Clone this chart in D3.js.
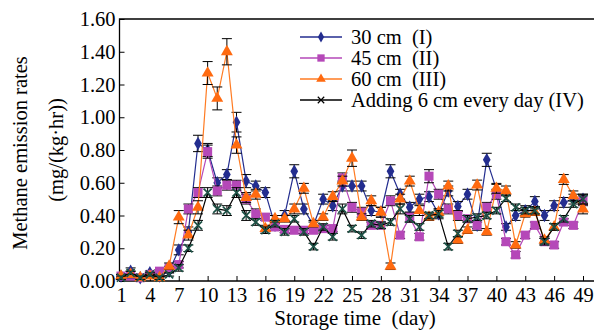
<!DOCTYPE html>
<html>
<head>
<meta charset="utf-8">
<script src="https://cdn.jsdelivr.net/npm/d3@7"></script>
<style>
  body { margin: 0; background: #fff; }
  text { font-family: "Liberation Serif", "Times New Roman", serif; fill: #000; }
</style>
</head>
<body>
<svg id="chart" width="594" height="332"></svg>
<script>
// storage day of each measurement
const days = [1, 2, 3, 4, 5, 6, 7, 8, 9, 10, 11, 12, 13, 14, 15, 16, 17, 18, 19, 20, 21, 22, 23, 24, 25,
  26, 27, 28, 29, 30, 31, 32, 33, 34, 35, 36, 37, 38, 39, 40, 41, 42, 43, 44, 45, 46, 47, 48, 49];
const xTicks = [1, 4, 7, 10, 13, 16, 19, 22, 25, 28, 31, 34, 37, 40, 43, 46, 49];
const yTicks = [0, 0.2, 0.4, 0.6, 0.8, 1.0, 1.2, 1.4, 1.6];
const seriesNames = ['30 cm\u2002(I)', '45 cm\u2002(II)', '60 cm\u2002(III)', 'Adding 6 cm every day (IV)'];

// methane emission rates, mg/(kg·hr)
const rateI = [0.03, 0.06, 0.02, 0.05, 0.03, 0.06, 0.19, 0.30, 0.84, 0.80, 0.60, 0.65, 0.97, 0.61, 0.58, 0.54,
  0.34, 0.40, 0.67, 0.44, 0.34, 0.50, 0.46, 0.58, 0.58, 0.58, 0.43, 0.42, 0.67, 0.53, 0.45, 0.50, 0.515,
  0.41, 0.55, 0.455, 0.53, 0.34, 0.74, 0.56, 0.33, 0.40, 0.43, 0.485, 0.40, 0.46, 0.48, 0.50, 0.50];
const rateII = [0.03, 0.03, 0.02, 0.04, 0.06, 0.08, 0.10, 0.44, 0.54, 0.79, 0.55, 0.585, 0.585, 0.50, 0.41, 0.39,
  0.33, 0.315, 0.31, 0.31, 0.31, 0.32, 0.32, 0.63, 0.45, 0.42, 0.34, 0.34, 0.49, 0.28, 0.39, 0.27, 0.64,
  0.53, 0.44, 0.40, 0.38, 0.34, 0.45, 0.53, 0.24, 0.16, 0.28, 0.34, 0.24, 0.22, 0.36, 0.34, 0.49];
const rateIII = [0.03, 0.04, 0.02, 0.03, 0.02, 0.09, 0.39, 0.28, 0.45, 1.27, 1.115, 1.40, 0.83, 0.51, 0.53, 0.32,
  0.38, 0.38, 0.44, 0.566, 0.35, 0.39, 0.515, 0.61, 0.75, 0.39, 0.49, 0.42, 0.09, 0.50, 0.61, 0.43, 0.39,
  0.42, 0.58, 0.25, 0.31, 0.586, 0.30, 0.566, 0.55, 0.22, 0.41, 0.42, 0.25, 0.33, 0.62, 0.52, 0.44];
const rateIV = [0.02, 0.05, 0.02, 0.04, 0.02, 0.04, 0.08, 0.20, 0.34, 0.54, 0.44, 0.43, 0.54, 0.40, 0.36, 0.31,
  0.35, 0.30, 0.38, 0.30, 0.21, 0.33, 0.27, 0.44, 0.32, 0.28, 0.35, 0.34, 0.36, 0.44, 0.38, 0.33, 0.40,
  0.41, 0.21, 0.29, 0.38, 0.39, 0.40, 0.43, 0.505, 0.45, 0.43, 0.43, 0.24, 0.33, 0.38, 0.47, 0.50];

// error bar half-widths
const errI = [0.01, 0.02, 0.01, 0.01, 0.01, 0.01, 0.03, 0.03, 0.05, 0.04, 0.03, 0.03, 0.06, 0.04, 0.03, 0.03,
  0.02, 0.03, 0.04, 0.03, 0.02, 0.03, 0.03, 0.03, 0.03, 0.03, 0.03, 0.03, 0.04, 0.03, 0.03, 0.03, 0.03,
  0.03, 0.03, 0.03, 0.03, 0.03, 0.04, 0.03, 0.02, 0.03, 0.03, 0.03, 0.03, 0.03, 0.03, 0.03, 0.03];
const errII = [0.01, 0.01, 0.01, 0.01, 0.01, 0.01, 0.02, 0.03, 0.03, 0.04, 0.03, 0.03, 0.03, 0.03, 0.03, 0.02,
  0.02, 0.02, 0.02, 0.02, 0.02, 0.02, 0.02, 0.03, 0.03, 0.03, 0.02, 0.02, 0.03, 0.02, 0.03, 0.02, 0.04,
  0.03, 0.03, 0.03, 0.02, 0.02, 0.03, 0.03, 0.02, 0.02, 0.02, 0.02, 0.02, 0.02, 0.02, 0.02, 0.03];
const errIII = [0.01, 0.02, 0.01, 0.01, 0.01, 0.02, 0.04, 0.03, 0.04, 0.07, 0.07, 0.08, 0.05, 0.03, 0.03, 0.02,
  0.02, 0.02, 0.03, 0.03, 0.02, 0.02, 0.03, 0.03, 0.05, 0.02, 0.03, 0.03, 0.02, 0.03, 0.03, 0.03, 0.02,
  0.02, 0.03, 0.02, 0.02, 0.03, 0.02, 0.03, 0.03, 0.02, 0.02, 0.02, 0.02, 0.02, 0.03, 0.03, 0.03];
const errIV = [0.01, 0.01, 0.01, 0.01, 0.01, 0.01, 0.02, 0.02, 0.03, 0.03, 0.03, 0.03, 0.03, 0.03, 0.02, 0.02,
  0.02, 0.02, 0.02, 0.02, 0.02, 0.02, 0.02, 0.03, 0.02, 0.02, 0.02, 0.02, 0.02, 0.03, 0.02, 0.02, 0.02,
  0.02, 0.02, 0.02, 0.02, 0.02, 0.02, 0.02, 0.02, 0.02, 0.02, 0.02, 0.02, 0.02, 0.02, 0.02, 0.03];

const svg = d3.select('#chart');

// edges of the plot box
const plotLeft = 119.5, plotRight = 594, plotTop = 19, plotBottom = 281;

const x = d3.scaleLinear().domain([1, 49]).range([121, 583]);
const y = d3.scaleLinear().domain([0, 1.6]).range([plotBottom, plotTop]);

const series = [
  { name: seriesNames[0], values: rateI, err: errI, color: '#232d8f', fill: '#232d8f',
    symbol: d3.symbolDiamond, size: 52, stroke: 'none' },
  { name: seriesNames[1], values: rateII, err: errII, color: '#b548b8', fill: '#b548b8',
    symbol: d3.symbolSquare, size: 82, stroke: 'none' },
  { name: seriesNames[2], values: rateIII, err: errIII, color: '#ff7b22', fill: '#ff6a10',
    symbol: d3.symbolTriangle, size: 62, stroke: 'none' },
  { name: seriesNames[3], values: rateIV, err: errIV, color: '#000', fill: 'none',
    symbol: d3.symbolTimes || d3.symbolX || d3.symbolCross, size: 44, stroke: '#1d5246' }
];

// axes with inward ticks
svg.append('g')
  .attr('transform', `translate(0, ${plotBottom})`)
  .call(d3.axisBottom(x).tickValues(xTicks).tickSize(-5).tickPadding(6).tickFormat(d3.format('d')))
  .call(g => g.select('.domain').remove())
  .call(g => g.selectAll('text').style('font-size', '20.5px'));

svg.append('g')
  .attr('transform', `translate(${plotLeft}, 0)`)
  .call(d3.axisLeft(y).tickValues(yTicks).tickSize(-5).tickPadding(4).tickFormat(d3.format('.2f')))
  .call(g => g.select('.domain').remove())
  .call(g => g.selectAll('text').style('font-size', '20.5px'));

svg.append('path')
  .attr('d', `M${plotRight},${plotTop}H${plotLeft}V${plotBottom}H${plotRight}`)
  .attr('fill', 'none')
  .attr('stroke', '#000')
  .attr('stroke-width', 1.3);

const line = d3.line()
  .x((d, i) => x(days[i]))
  .y(d => y(d));

series.forEach(s => {
  const g = svg.append('g');
  g.append('path')
    .datum(s.values)
    .attr('d', line)
    .attr('fill', 'none')
    .attr('stroke', s.color)
    .attr('stroke-width', 1.2);

  // error bars
  const eb = g.selectAll('.eb').data(s.values).enter().append('g');
  eb.append('line')
    .attr('x1', (d, i) => x(days[i])).attr('x2', (d, i) => x(days[i]))
    .attr('y1', (d, i) => y(d - s.err[i])).attr('y2', (d, i) => y(d + s.err[i]))
    .attr('stroke', '#000').attr('stroke-width', 1);
  eb.append('line')
    .attr('x1', (d, i) => x(days[i]) - 5).attr('x2', (d, i) => x(days[i]) + 5)
    .attr('y1', (d, i) => y(d + s.err[i])).attr('y2', (d, i) => y(d + s.err[i]))
    .attr('stroke', '#000').attr('stroke-width', 1);
  eb.append('line')
    .attr('x1', (d, i) => x(days[i]) - 5).attr('x2', (d, i) => x(days[i]) + 5)
    .attr('y1', (d, i) => y(d - s.err[i])).attr('y2', (d, i) => y(d - s.err[i]))
    .attr('stroke', '#000').attr('stroke-width', 1);

  g.selectAll('.mk').data(s.values).enter().append('path')
    .attr('transform', (d, i) => `translate(${x(days[i])}, ${y(d)})`)
    .attr('d', d3.symbol().type(s.symbol).size(s.size))
    .attr('fill', s.fill)
    .attr('stroke', s.stroke)
    .attr('stroke-width', 1.7);
});

// legend
const legend = svg.append('g');
series.forEach((s, i) => {
  const ly = 37 + i * 21;
  legend.append('line')
    .attr('x1', 300).attr('x2', 342).attr('y1', ly).attr('y2', ly)
    .attr('stroke', s.color).attr('stroke-width', 1.3);
  legend.append('path')
    .attr('transform', `translate(321, ${ly})`)
    .attr('d', d3.symbol().type(s.symbol).size(s.size * 0.65))
    .attr('fill', s.fill)
    .attr('stroke', i === 3 ? '#000' : 'none')
    .attr('stroke-width', 1.2);
  legend.append('text')
    .attr('x', 351).attr('y', ly)
    .attr('dy', '0.35em')
    .style('font-size', '20.5px')
    .text(s.name);
});

// axis titles
svg.append('text')
  .attr('x', 355).attr('y', 325)
  .attr('text-anchor', 'middle')
  .style('font-size', '21px')
  .text('Storage time\u2002(day)');

svg.append('text')
  .attr('transform', 'translate(27, 153) rotate(-90)')
  .attr('text-anchor', 'middle')
  .style('font-size', '20.5px')
  .text('Methane emission rates');

svg.append('text')
  .attr('transform', 'translate(63, 150) rotate(-90)')
  .attr('text-anchor', 'middle')
  .style('font-size', '20.5px')
  .text('(mg/(kg\u00b7hr))');
</script>
</body>
</html>
